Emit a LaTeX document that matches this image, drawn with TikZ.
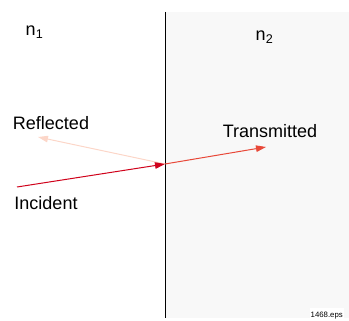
\documentclass[tikz,border=0pt]{standalone}
\usepackage{fontspec}
\setmainfont{Liberation Sans}
\usetikzlibrary{arrows.meta, positioning}
\definecolor{inred}{RGB}{208, 2, 27}
\definecolor{transred}{RGB}{232, 72, 56}
\definecolor{reflpink}{RGB}{252, 214, 200}
\definecolor{mediumgray}{RGB}{248, 248, 248}
\begin{document}
\begin{tikzpicture}[x=1pt, y=-1pt,
  lbl/.style={inner sep=0pt, font=\fontsize{18}{20}\selectfont},
  ray/.style={line width=1pt, -{Triangle[length=10pt, width=6.5pt]}}
]
  \useasboundingbox (0,0) rectangle (349,321);
  % the two media
  \fill[mediumgray] (166,12) rectangle (349,318);
  \coordinate (top) at (165,12);
  \coordinate (bottom) at (165,318);
  \draw[line width=0.8pt] (top) -- (bottom);
  \node[lbl, anchor=base] (none) at (34.5,36) {n\textsubscript{1}};
  \node[lbl, anchor=base] (ntwo) at (264.5,41) {n\textsubscript{2}};
  % rays
  \coordinate (hit) at (165,164);
  \coordinate (src) at (17,187);
  \coordinate (refl) at (38,137);
  \coordinate (trans) at (266,147);
  \draw[ray, reflpink] (hit) -- (refl);
  \draw[ray, transred] (hit) -- (trans);
  \draw[ray, inred] (src) -- (hit);
  \node[lbl] (reflected) at (51,123) {Reflected};
  \node[lbl] (incident) at (46,203) {Incident};
  \node[lbl] (transmitted) at (270,131) {Transmitted};
  \node[fill=white, inner xsep=1pt, inner ysep=5pt, font=\fontsize{7.8}{9}\selectfont, anchor=base east] (file) at (344,318) {1468.eps};
\end{tikzpicture}
\end{document}
